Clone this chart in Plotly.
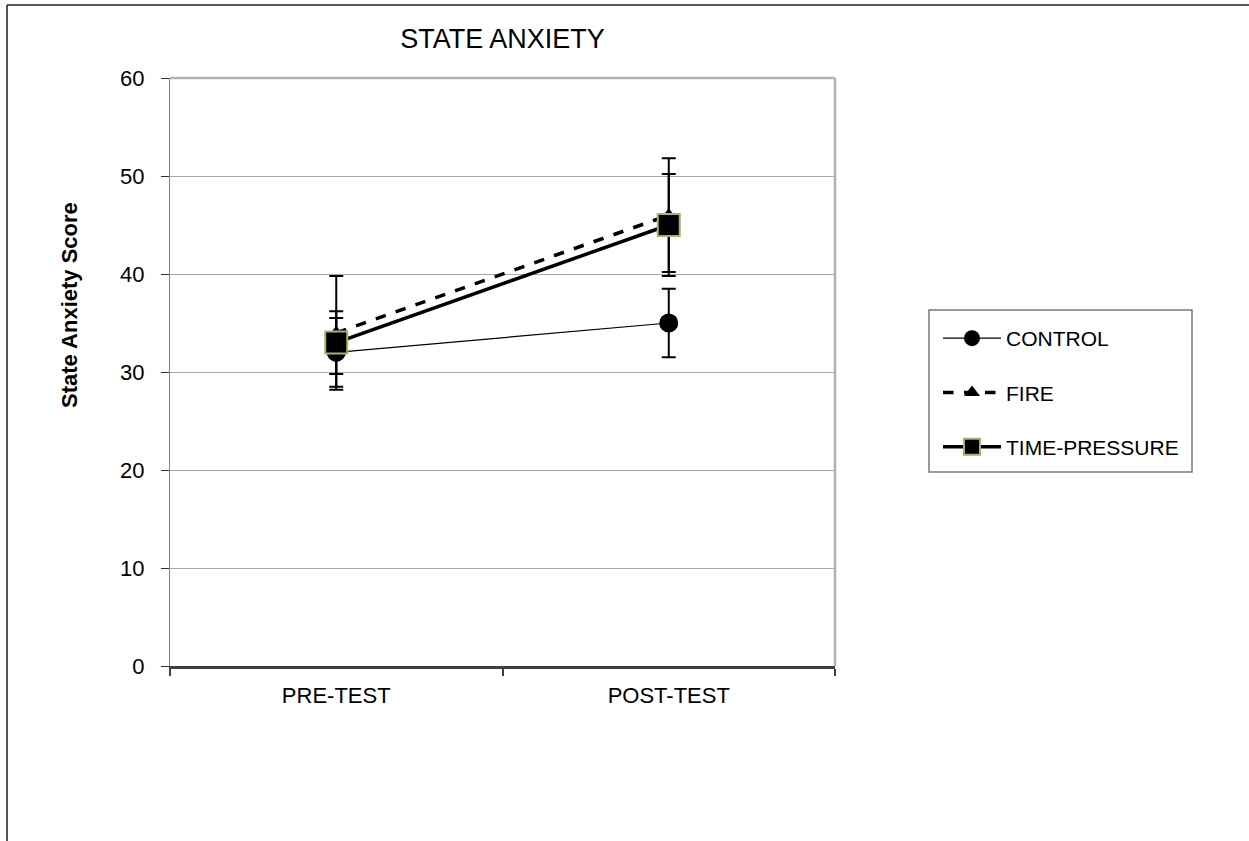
import plotly.graph_objects as go

# ---- data ----
categories = ["PRE-TEST", "POST-TEST"]
series_names = ["CONTROL", "FIRE", "TIME-PRESSURE"]
control_mean = [32, 35]
control_err = [3.5, 3.5]
fire_mean = [34, 46]
fire_err = [5.8, 5.8]
tp_mean = [33, 45]
tp_err = [3.2, 5.2]
y_ticks = [0, 10, 20, 30, 40, 50, 60]

FONT = "Liberation Sans, Arial, sans-serif"

# plot-area geometry in pixels
W, H = 1249, 841
L, R, T, B = 170, 835, 78, 666
PW, PH = R - L, B - T


def px_x(X):
    return (X - L) / PW


def px_y(Y):
    return (B - Y) / PH


fig = go.Figure()

fig.add_trace(go.Scatter(
    x=categories, y=control_mean, name=series_names[0], mode="lines+markers",
    legendgroup="a",
    line=dict(color="black", width=1.2),
    marker=dict(symbol="circle", size=19, color="black"),
    error_y=dict(type="data", array=control_err, visible=True, color="black",
                 thickness=2, width=7),
))
fig.add_trace(go.Scatter(
    x=categories, y=fire_mean, name=series_names[1], mode="lines+markers",
    legendgroup="b",
    line=dict(color="black", width=3.5, dash="dash"),
    marker=dict(symbol="triangle-up", size=14, color="black"),
    error_y=dict(type="data", array=fire_err, visible=True, color="black",
                 thickness=2, width=7),
))
fig.add_trace(go.Scatter(
    x=categories, y=tp_mean, name=series_names[2], mode="lines+markers",
    legendgroup="c",
    line=dict(color="black", width=3.5),
    marker=dict(symbol="square", size=22, color="black",
                line=dict(color="#a3b36a", width=2)),
    error_y=dict(type="data", array=tp_err, visible=True, color="black",
                 thickness=2, width=7),
))

shapes = [
    # outer chart border (top and left)
    dict(type="line", xref="paper", yref="paper", x0=px_x(7), x1=px_x(W + 5),
         y0=px_y(5), y1=px_y(5), line=dict(color="#202020", width=1.5)),
    dict(type="line", xref="paper", yref="paper", x0=px_x(7), x1=px_x(7),
         y0=px_y(5), y1=px_y(H + 5), line=dict(color="#202020", width=1.5)),
    # plot area top and right edges
    dict(type="line", xref="paper", yref="paper", x0=0, x1=1, y0=1, y1=1,
         line=dict(color="#b4b4b4", width=2.5)),
    dict(type="line", xref="paper", yref="paper", x0=1, x1=1, y0=0, y1=1,
         line=dict(color="#b0b0b0", width=2.5)),
    # legend box
    dict(type="rect", xref="paper", yref="paper", x0=px_x(929), x1=px_x(1192),
         y0=px_y(472), y1=px_y(310), line=dict(color="#7a7a7a", width=1.5),
         fillcolor="rgba(0,0,0,0)"),
]

fig.update_layout(
    width=W, height=H,
    margin=dict(l=L, r=W - R, t=T, b=H - B),
    paper_bgcolor="white", plot_bgcolor="white",
    font=dict(family=FONT, color="black", size=22),
    title=dict(text="STATE ANXIETY", x=0.5, xref="paper", xanchor="center",
               y=1 - 39 / H, yref="container", yanchor="middle",
               font=dict(family=FONT, size=27, color="black")),
    showlegend=True,
    legend=dict(x=px_x(938), y=px_y(318), xanchor="left", yanchor="top",
                font=dict(family=FONT, size=21, color="black"),
                bgcolor="rgba(0,0,0,0)", borderwidth=0,
                tracegroupgap=24, itemwidth=58, traceorder="grouped"),
    xaxis=dict(type="category", categoryorder="array", categoryarray=categories,
               range=[-0.5, 1.5], tickson="boundaries", ticks="outside",
               ticklen=7, tickwidth=1.5, tickcolor="#404040",
               showline=True, linecolor="#404040", linewidth=2.5,
               showgrid=False, zeroline=False,
               tickfont=dict(family=FONT, size=22, color="black"),
               ticklabelstandoff=8),
    yaxis=dict(range=[0, 60], tickvals=y_ticks, ticks="outside", ticklen=8,
               tickwidth=1.2, tickcolor="#303030",
               showline=True, linecolor="#808080", linewidth=1.2,
               showgrid=True, gridcolor="#a8a8a8", gridwidth=1,
               zeroline=False,
               tickfont=dict(family=FONT, size=22, color="black"),
               ticklabelstandoff=12),
    shapes=shapes,
    annotations=[dict(text="<b>State Anxiety Score</b>", xref="paper", yref="paper",
                      x=px_x(69), y=px_y(305), xanchor="center", yanchor="middle",
                      textangle=-90, showarrow=False,
                      font=dict(family=FONT, size=22, color="black"))],
)

fig.write_html("out.html")
